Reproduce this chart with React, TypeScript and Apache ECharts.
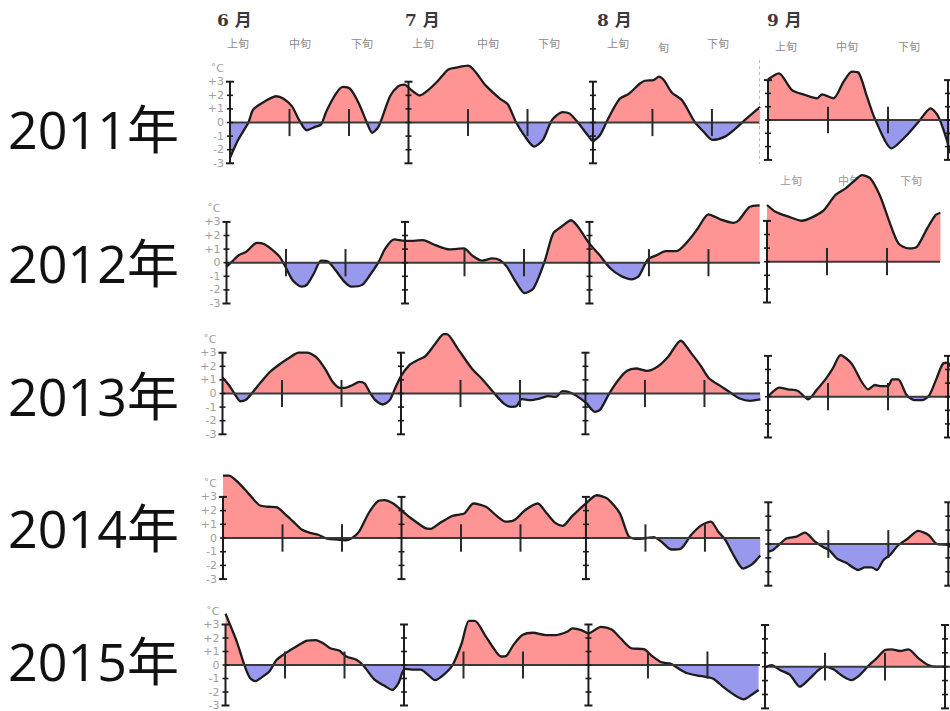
import React, { useEffect, useRef } from 'react';
import * as echarts from 'echarts';

// ---------- labels ----------
const yearLabels = ['2011年', '2012年', '2013年', '2014年', '2015年'];
const monthLabels = ['6 月', '7 月', '8 月', '9 月'];
const dekadLabels = ['上旬', '中旬', '下旬'];

// ---------- axis positions (day offsets) ----------
const mainMonthAxes = [0, 30, 61]; // Jun 1, Jul 1, Aug 1
const mainDekadTicks = [10, 20, 40, 50, 71, 81];
const septDekadTicks = [10, 20];

// ---------- data: [day offset, anomaly °C] ----------
const jja2011 = [[0,-2.6],[1.4,-1.25],[3.1,0],[3.9,0.95],[5.9,1.57],[7.8,1.93],[9,1.74],[10.4,1.2],[11.6,0.2],[12.9,-0.57],[14.3,-0.32],[15.3,-0.15],[16.2,0.83],[17.9,2.18],[19,2.62],[20.2,2.47],[21.6,1.45],[23,0],[23.9,-0.76],[25,-0.27],[26.9,1.93],[28.3,2.67],[29.3,2.79],[30.5,2.38],[31.9,1.99],[33.3,2.38],[35,3.09],[36.7,3.9],[38.4,4.07],[40,4.18],[43,2.71],[45.4,1.74],[46.7,1.33],[48.1,0],[49.6,-1.04],[51.1,-1.77],[52.6,-1.28],[54.1,0.17],[55.9,0.77],[57.1,0.65],[58.6,-0.07],[60.1,-0.92],[61,-1.36],[62.2,-0.92],[63.7,0.41],[65.5,1.74],[67,2.1],[68.8,2.83],[69.7,3.07],[71.2,3.12],[72.1,3.37],[73,3.07],[74.2,2.23],[76,1.62],[78.1,0.05],[79.6,-0.68],[81.1,-1.28],[83.2,-1.04],[85,-0.44],[86.2,0.05],[89.1,1.14]];
const sep2011 = [[0,3.05],[1.8,3.5],[4,2.25],[6.2,1.88],[8.2,1.63],[9,1.93],[10.9,1.63],[12.6,2.88],[14,3.63],[15.1,3.55],[16.5,1.75],[17.9,0],[20.6,-2.13],[22.9,-1.25],[25.1,-0.13],[27.1,0.88],[28.4,0.25],[29.8,-1.5],[30.3,-2.5]];

const jja2012 = [[0,-0.3],[1.2,0.2],[2.1,0.56],[3.3,0.8],[5.1,1.46],[6.3,1.37],[8.1,0.8],[9,0.39],[9.9,-0.29],[11.1,-1.27],[12.6,-1.76],[13.5,-1.63],[14.7,-0.78],[15.9,0.15],[17.1,0.07],[18.3,-0.54],[19.8,-1.39],[21,-1.76],[22.8,-1.63],[24,-0.98],[25.5,0],[26.7,1.05],[28.2,1.71],[30,1.61],[31.5,1.61],[33,1.66],[35.1,1.29],[37.5,0.98],[39.9,1.05],[41.4,0.49],[42.9,0.15],[44.7,0.32],[45.9,0.2],[47.1,-0.29],[48.6,-1.39],[50.1,-2.24],[51.6,-1.88],[53.4,0],[54.9,2.15],[56.4,2.68],[57.9,3.12],[59.1,2.63],[60.9,1.46],[62.7,0.56],[64.5,-0.41],[66.3,-0.98],[68.1,-1.22],[69.3,-0.98],[70.8,0.24],[72.3,0.56],[73.8,0.85],[75.6,0.85],[77.7,1.66],[79.2,2.51],[81,3.56],[83.1,3.17],[85.2,2.93],[86.1,3.12],[87.9,4.1],[89.6,4.22]];
const sep2012 = [[0,4.17],[1.4,3.68],[3.6,3.31],[5.8,3.01],[7.5,3.26],[9.4,3.75],[11.4,4.9],[13.1,5.39],[14.7,6.0],[15.8,6.37],[17.2,6.13],[18.9,4.78],[20.3,3.06],[21.9,1.35],[23.6,0.98],[25,1.1],[26.7,2.45],[28.1,3.43],[28.9,3.6]];

const jja2013 = [[0,1.18],[1.1,0.61],[2,0],[3,-0.57],[4,-0.44],[5,0.05],[6.5,0.86],[8,1.6],[9.8,2.21],[11.3,2.65],[12.8,3.0],[14.3,3.0],[15.8,2.65],[17.3,1.77],[18.5,0.86],[19.7,0.42],[20.6,0.42],[21.8,0.61],[23,0.86],[23.9,0.74],[24.8,0.05],[25.7,-0.49],[26.9,-0.81],[28.1,-0.49],[29,0.37],[30,1.28],[31.4,2.09],[32.6,2.41],[34.1,2.75],[35.6,3.56],[37.2,4.37],[37.7,4.37],[39.5,3.32],[41.9,1.84],[43.7,1.03],[45.8,-0.05],[47.3,-0.74],[48.5,-0.98],[49.4,-0.93],[50.3,-0.42],[51.8,-0.49],[53.3,-0.37],[54.8,-0.2],[56,-0.25],[57.2,0.17],[58.1,0.12],[59.3,-0.12],[61.1,-0.69],[62.6,-1.35],[63.5,-1.18],[65,0],[66.5,0.98],[68,1.67],[69.5,1.84],[71.3,1.67],[73.1,1.97],[74.9,2.7],[77,3.88],[78.8,2.95],[80.3,2.09],[81.8,1.1],[83.9,0.49],[85.4,0.05],[86.9,-0.37],[88.7,-0.54],[90.4,-0.44]];
const sep2013 = [[0,0],[1.9,0.66],[3.3,0.54],[5,0.42],[6.7,-0.2],[8.1,0.49],[9.7,1.35],[10.8,2.08],[12.1,3.06],[13.9,2.45],[15.6,1.1],[16.7,0.54],[17.8,0.86],[18.9,0.78],[20,0.78],[20.7,1.27],[21.7,1.27],[23.1,0.12],[24.4,-0.25],[25.8,-0.25],[26.9,0.12],[28.1,1.35],[29.2,2.45],[30,2.5],[30.3,2.2]];

const jja2014 = [[0,4.56],[1,4.56],[2.5,4.08],[4.3,3.24],[6.1,2.4],[7.6,2.28],[9.1,2.23],[10.3,1.8],[11.8,1.2],[13.3,0.6],[14.8,0.36],[16,0.24],[17.5,-0.05],[19.3,-0.12],[20.5,-0.17],[21.7,0],[22.9,0.48],[24.4,1.75],[25.9,2.64],[27.1,2.76],[28.6,2.52],[29.8,2.09],[31.6,1.44],[34,0.72],[34.9,0.67],[36.4,1.08],[38.5,1.61],[39.4,1.68],[40.6,1.8],[42.1,2.52],[44.2,2.28],[46,1.61],[47.5,1.2],[49,1.32],[50.8,2.04],[52.9,2.52],[54.4,1.8],[55.9,1.08],[57.1,0.89],[58.6,1.56],[61,2.52],[62.8,3.12],[64.6,2.88],[66.7,1.8],[68.2,0.12],[69.7,-0.07],[71.2,0],[72.4,0.07],[73.6,-0.24],[75.4,-0.84],[76.9,-0.79],[78.7,0.24],[80.5,0.96],[82,1.2],[83.2,0.48],[84.4,-0.12],[85.9,-1.32],[87.4,-2.23],[88.9,-1.92],[90.3,-1.27]];
const sep2014 = [[0,-0.55],[0.8,-0.43],[1.9,0],[3.1,0.41],[4.7,0.53],[6.1,0.82],[7.8,0.17],[9.2,-0.24],[10.1,-0.43],[11.4,-1.03],[13.1,-1.39],[15,-1.87],[16.1,-1.68],[17.2,-1.68],[18.1,-1.87],[19.2,-1.15],[20.3,-0.79],[21.7,-0.07],[23.1,0.34],[25,0.94],[26.7,0.65],[28.1,0],[30,-0.07],[30.3,-0.24]];

const jja2015 = [[0,3.8],[0.8,2.95],[2,1.61],[3.2,-0.05],[4.1,-0.95],[5,-1.2],[6.2,-0.88],[7.4,-0.46],[8.6,0.39],[10.1,0.88],[11.9,1.37],[13.7,1.8],[15.2,1.85],[16.4,1.61],[17.6,1.24],[19.1,1.07],[20.3,0.63],[22,0.39],[23.2,-0.05],[25,-1.07],[26.8,-1.56],[28,-1.85],[29.1,-1.32],[30.1,-0.29],[31.3,-0.34],[32.8,-0.34],[34,-0.71],[35.2,-1.12],[36.7,-0.71],[38.2,0.02],[39.7,1.61],[40.9,3.27],[41.9,3.27],[43.6,2.22],[44.8,1.41],[46.3,0.63],[47.2,0.68],[48.4,1.49],[49.9,2.22],[51.7,2.39],[53.8,2.22],[55.6,2.22],[57.4,2.46],[58.3,2.71],[59.8,2.59],[61,2.34],[63.1,2.83],[64.9,2.63],[66.4,1.98],[68.2,1.24],[70.3,1.17],[71.8,0.63],[73.3,0.2],[74.8,0.1],[76,-0.22],[77.5,-0.59],[79.3,-0.78],[80.8,-0.88],[82,-1.02],[83.8,-1.68],[85.6,-2.24],[87.1,-2.54],[88.3,-2.24],[89.6,-1.85]];
const sep2015 = [[0,-0.05],[1.1,0.12],[2.5,-0.24],[4.2,-0.6],[5.8,-1.44],[7.2,-0.96],[8.9,-0.24],[10,0],[11.4,-0.19],[13.1,-0.72],[14.4,-0.96],[15.8,-0.6],[17.2,0.05],[18.6,0.6],[20,1.2],[21.1,1.25],[22.5,1.13],[23.9,1.25],[25.6,0.6],[27.2,0.12],[28.6,0],[30,0]];

const mainData = [jja2011, jja2012, jja2013, jja2014, jja2015];
const septData = [sep2011, sep2012, sep2013, sep2014, sep2015];
const septAxesPerRow = [[0, 30], [0], [0, 30], [0, 30], [0, 30]];

// ---------- layout (pixels) ----------
const mainLayout = [
  { left: 230, zero: 122.5, ppu: 13.6 },
  { left: 226.5, zero: 262.7, ppu: 13.6 },
  { left: 222.5, zero: 393.5, ppu: 13.6 },
  { left: 223, zero: 538, ppu: 13.7 },
  { left: 225.5, zero: 665, ppu: 13.5 },
];
const septLayout = [
  { left: 768, zero: 120, ppu: 13.3, right: 950 },
  { left: 767, zero: 261.7, ppu: 13.6, right: 940 },
  { left: 768, zero: 396.7, ppu: 13.6, right: 950 },
  { left: 768.3, zero: 544, ppu: 13.9, right: 950 },
  { left: 765, zero: 666.7, ppu: 13.9, right: 950 },
];
const MAIN_RIGHT = 760;
const MAIN_PPD = 5.95;
const SEPT_PPD = 6;
const yearCenters = [128, 262, 395, 527, 660];

const RED = '#ff9494';
const BLUE = '#9898ec';
const INK = '#1c1c1c';

function renderAxes(params: any, api: any) {
  const x = api.value(0);
  const kind = api.value(1);
  const children: any[] = [];
  if (kind === 2) {
    const a = api.coord([0, 0]);
    const b = api.coord([x, 0]);
    children.push({ type: 'line', shape: { x1: a[0], y1: a[1], x2: b[0], y2: b[1] }, style: { stroke: '#3a3a3a', lineWidth: 2 } });
  } else if (kind === 0) {
    const t = api.coord([x, 3]);
    const b = api.coord([x, -3]);
    children.push({ type: 'line', shape: { x1: t[0], y1: t[1], x2: b[0], y2: b[1] }, style: { stroke: INK, lineWidth: 2 } });
    for (let v = -3; v <= 3; v++) {
      const p = api.coord([x, v]);
      const hw = Math.abs(v) === 3 ? 4 : 3;
      children.push({ type: 'line', shape: { x1: p[0] - hw, y1: p[1], x2: p[0] + hw, y2: p[1] }, style: { stroke: INK, lineWidth: Math.abs(v) === 3 ? 2 : 1.6 } });
    }
  } else {
    const t = api.coord([x, 1]);
    const b = api.coord([x, -1]);
    children.push({ type: 'line', shape: { x1: t[0], y1: t[1], x2: b[0], y2: b[1] }, style: { stroke: '#2a2a2a', lineWidth: 2 } });
  }
  return { type: 'group', children };
}

export default function App() {
  const ref = useRef<HTMLDivElement>(null);
  useEffect(() => {
    if (!ref.current) return;
    const chart = echarts.init(ref.current, null, { renderer: 'svg' });
    const grid: any[] = [];
    const xAxis: any[] = [];
    const yAxis: any[] = [];
    const series: any[] = [];
    const dataSeriesIdx: number[] = [];

    const addPanel = (left: number, right: number, zero: number, ppu: number, ppd: number, showLabels: boolean, data: number[][], axes: number[], ticks: number[]) => {
      const gi = grid.length;
      const xmax = (right - left) / ppd;
      grid.push({ left, top: zero - 7 * ppu, width: right - left, height: 11 * ppu, containLabel: false, outerBoundsMode: 'none', show: false });
      xAxis.push({ type: 'value', gridIndex: gi, min: 0, max: xmax, show: false });
      yAxis.push({
        type: 'value', gridIndex: gi, min: -4, max: 7, interval: 1, show: showLabels,
        axisLine: { show: false }, axisTick: { show: false }, splitLine: { show: false },
        axisLabel: {
          show: showLabels, margin: 6, color: '#a0a0a0', fontSize: 11, fontFamily: 'DejaVu Sans',
          formatter: (v: number) => (v > 4 || v < -3 ? '' : v === 4 ? '˚C' : v > 0 ? '+' + v : String(v)),
        },
      });
      dataSeriesIdx.push(series.length);
      series.push({
        type: 'line', xAxisIndex: gi, yAxisIndex: gi, data, smooth: 0.25, showSymbol: false, symbol: 'none',
        lineStyle: { color: INK, width: 2.3 }, areaStyle: { opacity: 1, origin: 0 }, z: 2,
      });
      const axisData: number[][] = [[xmax, 2]];
      axes.forEach((a) => axisData.push([a, 0]));
      ticks.forEach((t) => axisData.push([t, 1]));
      series.push({
        type: 'custom', xAxisIndex: gi, yAxisIndex: gi, data: axisData, renderItem: renderAxes,
        encode: { x: 0, y: 1 }, z: 3, silent: true,
      });
    };

    for (let i = 0; i < 5; i++) {
      const m = mainLayout[i];
      addPanel(m.left, MAIN_RIGHT, m.zero, m.ppu, MAIN_PPD, true, mainData[i], mainMonthAxes, mainDekadTicks);
      const s = septLayout[i];
      addPanel(s.left, s.right, s.zero, s.ppu, SEPT_PPD, false, septData[i], septAxesPerRow[i], septDekadTicks);
    }

    const graphic: any[] = [];
    yearLabels.forEach((t, i) => {
      graphic.push({ type: 'text', x: 8, y: yearCenters[i], z: 10, style: { text: t, fill: '#111', verticalAlign: 'middle', font: '52px "Open Sans", "Noto Sans CJK JP", sans-serif' } });
    });
    const monthX = [217, 405, 597, 767];
    monthLabels.forEach((t, i) => {
      graphic.push({ type: 'text', x: monthX[i], y: 11, z: 10, style: { text: t, fill: '#3a3a3a', font: 'bold 17px "DejaVu Serif", "Noto Sans CJK JP", serif' } });
    });
    const dekadX = [227, 289, 351, 412, 477, 538, 607, 707, 775, 836, 898];
    const dekadIdx = [0, 1, 2, 0, 1, 2, 0, 2, 0, 1, 2];
    dekadX.forEach((x, i) => {
      graphic.push({ type: 'text', x, y: i >= 8 ? 40 : 37, z: 10, style: { text: dekadLabels[dekadIdx[i]], fill: '#8a8a8a', font: '11px "Noto Sans CJK JP", sans-serif' } });
    });
    graphic.push({ type: 'text', x: 658, y: 41, z: 10, style: { text: '旬', fill: '#8a8a8a', font: '11px "Noto Sans CJK JP", sans-serif' } });
    [780, 838, 900].forEach((x, i) => {
      graphic.push({ type: 'text', x, y: 174, z: 0, style: { text: dekadLabels[i], fill: '#9a9a9a', font: '11px "Noto Sans CJK JP", sans-serif' } });
    });
    graphic.push({ type: 'line', z: 10, shape: { x1: 759.5, y1: 60, x2: 759.5, y2: 164 }, style: { stroke: '#bdbdbd', lineWidth: 1, lineDash: [3, 3] } });

    chart.setOption({
      animation: false,
      backgroundColor: '#ffffff',
      grid, xAxis, yAxis, series, graphic,
      visualMap: [{
        type: 'piecewise', show: false, dimension: 1, seriesIndex: dataSeriesIdx,
        pieces: [{ gt: 0, lte: 20, color: RED }, { gte: -20, lte: 0, color: BLUE }],
      }],
    });
    return () => chart.dispose();
  }, []);
  return <div ref={ref} style={{ position: 'fixed', left: 0, top: 0, width: 950, height: 711 }} />;
}
